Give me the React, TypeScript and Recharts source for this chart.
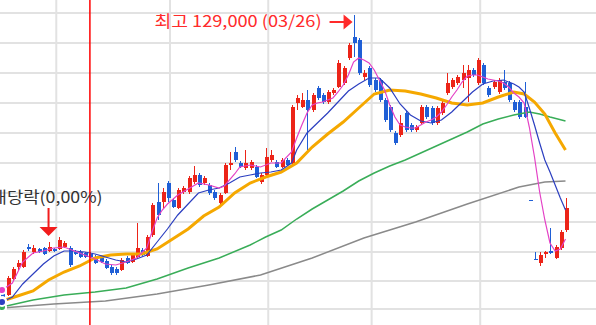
import React from 'react';
import { ComposedChart, Bar, Line, XAxis, YAxis, CartesianGrid, ReferenceLine, ReferenceDot } from 'recharts';

// daily candles, oldest first
const open = [
  73600, 73000, 76200, 78600, 78600, 82600, 81600, 82200, 82400, 81800,
  82200, 82200, 82600, 82400, 81600, 81600, 81400, 81200, 80600, 80600,
  79800, 78600, 78200, 78000, 80400, 79600, 80600, 82000, 80800, 85000,
  91600, 91600, 95400, 92000, 90400, 93600, 93600, 95600, 97000, 95400,
  95000, 93600, 91400, 93400, 99000, 101600, 99400, 98400, 98400, 98600,
  95600, 97000, 100000, 99600, 98600, 100000, 99400, 111400, 110600, 112000,
  110000, 114400, 113000, 111600, 113400, 114600, 115400, 120400, 124600, 124000,
  116600, 118400, 116000, 116000, 112000, 110600, 105400, 105000, 109400, 107000,
  106000, 107400, 110600, 110400, 107400, 109400, 113400, 114600, 115400, 116000,
  116400, 118000, 115400, 119000, 114400, 114600, 113600, 115600, 115400, 111600,
  111600, 110600, 92000, 80200, 79400, 81200, 81800, 80400, 82400, 86000,
];
const high = [
  74000, 76800, 78600, 80000, 82000, 83200, 83000, 82400, 82600, 83600,
  82400, 84600, 83800, 82800, 82000, 82000, 81600, 81600, 81000, 81000,
  80200, 79000, 78600, 80400, 80800, 81400, 87400, 82400, 85000, 91400,
  95400, 94400, 95800, 92400, 94400, 94800, 96800, 98800, 97400, 96800,
  95400, 94000, 93400, 99400, 101600, 102600, 99800, 102000, 100000, 99000,
  97400, 102400, 102000, 100000, 100400, 100400, 111000, 113000, 113400, 114000,
  113400, 114800, 113400, 114000, 114400, 120000, 118800, 123400, 129000, 124400,
  118000, 118800, 116400, 116400, 112400, 111000, 105800, 109000, 109800, 107400,
  107000, 111000, 111000, 110800, 110800, 111800, 117400, 116400, 117000, 119000,
  119000, 118400, 120400, 119400, 114800, 116000, 116400, 118000, 115800, 112000,
  112000, 115600, 92000, 81600, 81600, 81800, 86400, 83000, 86000, 92400,
];
const low = [
  72200, 72800, 75800, 78000, 78400, 81800, 81200, 81400, 81000, 81600,
  81600, 82000, 82400, 78600, 81000, 80400, 80400, 80400, 79200, 79400,
  78200, 77000, 77000, 77800, 79200, 79400, 80400, 80800, 80600, 84600,
  88000, 90400, 91600, 90400, 90200, 93200, 93200, 95200, 94600, 95000,
  93000, 92000, 91000, 93200, 98000, 99600, 98400, 98000, 98000, 96400,
  95200, 96800, 99600, 98400, 98400, 98800, 99200, 110000, 110400, 102000,
  109600, 112000, 111200, 111200, 113000, 114400, 115000, 120000, 120600, 117000,
  116000, 114600, 113600, 111600, 107600, 105600, 103000, 104600, 105600, 105600,
  105600, 107000, 108200, 107000, 107000, 109000, 113000, 114200, 115000, 114400,
  111600, 116600, 115000, 115000, 112600, 114200, 113200, 114000, 111600, 109600,
  108200, 108400, 92000, 80000, 78800, 80400, 81200, 80200, 82000, 85600,
];
const close = [
  72600, 76400, 78200, 79400, 81600, 82200, 82400, 81600, 81200, 82600,
  81800, 84000, 83400, 79000, 81200, 80600, 80600, 80600, 79400, 79600,
  78400, 77400, 77400, 80000, 79400, 81000, 82400, 81000, 84600, 91000,
  89000, 93600, 92400, 90600, 94000, 94400, 96400, 97000, 95000, 96400,
  93400, 92400, 93000, 99000, 99400, 100000, 98600, 99400, 99600, 96600,
  97000, 100600, 101000, 98600, 100000, 99000, 110600, 112400, 112000, 110000,
  113000, 112400, 111600, 113600, 114000, 119400, 118400, 123000, 123400, 117400,
  117400, 115000, 114000, 112000, 108000, 106000, 103400, 107400, 106000, 106000,
  106600, 110600, 108600, 107400, 110400, 111400, 115400, 116000, 116600, 117400,
  118000, 117000, 120000, 115400, 113000, 115600, 116000, 114400, 112000, 110000,
  108600, 108600, 92000, 80000, 81000, 81600, 81400, 82600, 85600, 90400,
];

// moving averages: [candle index, price]
const ma5: [number, number][] = [
  [0, 74000], [2, 75400], [4, 79600], [6, 81400], [8, 81800], [10, 82400], [12, 82600], [14, 81800],
  [16, 81000], [18, 80200], [20, 79200], [22, 79000], [24, 79600], [26, 80400], [28, 82400], [29, 85600],
  [30, 88400], [31, 90000], [32, 91200], [34, 93000], [36, 94200], [38, 95400], [40, 95000], [42, 94400],
  [43, 94800], [45, 97200], [46, 98600], [48, 99000], [50, 98600], [52, 99400], [54, 99400], [56, 101600],
  [57, 104400], [58, 107000], [59, 109400], [60, 111000], [61, 111400], [62, 111600], [63, 112000], [64, 112400],
  [65, 113600], [66, 115000], [67, 117000], [68, 119600], [69, 120400], [70, 120000], [71, 119400], [72, 118000],
  [73, 116000], [74, 114000], [75, 111000], [76, 108600], [77, 107000], [78, 106600], [79, 106400], [80, 106400],
  [81, 107000], [82, 107600], [83, 108000], [84, 108600], [85, 109600], [86, 111000], [87, 112600], [88, 114000],
  [89, 115600], [90, 116800], [91, 117000], [92, 117000], [93, 116600], [94, 116200], [95, 116000], [96, 115800],
  [97, 115400], [98, 114600], [99, 113400], [100, 112600], [101, 111400], [102, 106600], [103, 100600], [104, 93600],
  [105, 88000], [106, 83400], [107, 81800], [108, 82200], [109, 84200],
];
const ma10: [number, number][] = [
  [0, 71600], [2, 72600], [4, 75200], [6, 77200], [8, 79200], [10, 80800], [12, 81800], [14, 81800],
  [16, 81600], [18, 81200], [20, 80600], [22, 80000], [24, 79600], [26, 80200], [28, 81000], [30, 83600],
  [32, 86200], [34, 89000], [36, 91200], [38, 93400], [40, 94000], [42, 94400], [44, 95400], [46, 96600],
  [48, 97000], [50, 97400], [52, 97600], [54, 98000], [56, 99400], [57, 102000], [59, 105400], [61, 107400],
  [63, 109400], [65, 111600], [67, 113800], [69, 115200], [71, 116400], [73, 116400], [75, 114400], [77, 111200],
  [79, 109000], [81, 107800], [83, 107400], [85, 108000], [87, 109600], [89, 111600], [91, 113600], [93, 115200],
  [95, 115800], [97, 116000], [99, 115200], [100, 114600], [101, 113600], [102, 110400], [103, 107000], [104, 103400],
  [105, 100000], [106, 97600], [107, 95000], [108, 92400], [109, 90000],
];
const ma20: [number, number][] = [
  [0, 71800], [3, 72800], [6, 73800], [9, 76000], [12, 77600], [15, 78800], [18, 80400], [21, 81000],
  [24, 81200], [27, 81200], [30, 82200], [33, 84200], [36, 86200], [39, 88800], [42, 90600], [45, 93400],
  [48, 95400], [51, 96600], [54, 97600], [57, 99400], [60, 102600], [63, 105200], [66, 107600], [69, 110400],
  [72, 113200], [75, 114000], [78, 113800], [81, 113200], [84, 112400], [87, 111400], [90, 111000], [93, 111400],
  [96, 112600], [99, 113600], [101, 113200], [103, 111600], [105, 109200], [107, 105400], [109, 102000],
];
const ma60: [number, number][] = [
  [0, 70600], [6, 72000], [12, 73000], [18, 73600], [24, 74400], [30, 76200], [36, 78400], [42, 80400],
  [48, 83000], [51, 84600], [54, 86000], [57, 88200], [60, 90200], [63, 92000], [66, 93800], [69, 95800],
  [72, 97400], [75, 98800], [78, 100000], [81, 101400], [84, 102800], [87, 104200], [90, 105600], [93, 107200],
  [96, 108200], [99, 109000], [102, 109600], [104, 109200], [106, 108600], [109, 107800],
];
const ma120: [number, number][] = [
  [0, 70400], [10, 71200], [20, 71800], [30, 73200], [40, 75000], [50, 77000], [60, 80400], [70, 84400],
  [80, 87600], [90, 91200], [100, 94600], [105, 95600], [109, 95800],
];

const gridPrices = [129400, 123400, 117400, 111400, 105400, 99400, 93400, 87600, 81600, 75800, 70200];
const monthBreaks = [10.5, 32.5, 51.5, 71.5, 92.5];
const markerIndex = 17;
const peakIndex = 68;
const peakLabel = '최고 129,000 (03/26)';
const exDivIndex = 9;
const exDivLabel = '배당락(0,00%)';

const Y_MIN = 67000;
const Y_MAX = 132000;
const RED = '#ec2418';
const BLUE = '#1f5fd6';
const KR_FONT = "'Noto Sans CJK KR', 'Noto Sans', sans-serif";

const rows = open.map((o, i) => ({
  i,
  open: o,
  high: high[i],
  low: low[i],
  close: close[i],
  prev: i > 0 ? close[i - 1] : o,
}));

const toPoints = (list: [number, number][]) => list.map(([i, v]) => ({ i, v }));

const Candle = (props: any) => {
  const { x, y, width, height, payload } = props;
  if (!payload || height == null) return null;
  const { open: o, high: h, low: l, close: c, prev } = payload;
  const k = height / (h - Y_MIN);
  const py = (v: number) => y + (h - v) * k;
  const cx = Math.round(x + width / 2);
  const up = c > o || (c === o && c >= prev);
  const color = up ? RED : BLUE;
  const top = py(Math.max(o, c));
  const bot = py(Math.min(o, c));
  return (
    <g>
      <line x1={cx + 0.5} x2={cx + 0.5} y1={py(h)} y2={py(l)} stroke={color} strokeWidth={1} />
      <rect x={cx - 1} y={top} width={4} height={Math.max(1, bot - top)} fill={color} />
    </g>
  );
};

const PeakMark = (props: any) => {
  const { cx, cy } = props;
  if (cx == null) return null;
  const ay = cy + 7;
  return (
    <g>
      <text x={cx - 32} y={cy + 12} textAnchor="end" fill="#ff2a2a" fontSize={16} fontFamily={KR_FONT}
        textLength={167} lengthAdjust="spacingAndGlyphs">{peakLabel}</text>
      <line x1={cx - 24} x2={cx - 9} y1={ay} y2={ay} stroke="#ff2a2a" strokeWidth={2} />
      <polygon points={`${cx - 10},${ay - 7.5} ${cx - 10},${ay + 7.5} ${cx - 1},${ay}`} fill="#ff2a2a" />
    </g>
  );
};

const ExDivMark = (props: any) => {
  const { cx, cy } = props;
  if (cx == null) return null;
  return (
    <g>
      <text x={cx - 2} y={cy - 39} textAnchor="middle" fill="#333" fontSize={16} fontFamily={KR_FONT}
        textLength={112} lengthAdjust="spacingAndGlyphs">{exDivLabel}</text>
      <line x1={cx} x2={cx} y1={cy - 34} y2={cy - 14} stroke="#f21c1c" strokeWidth={2} />
      <polygon points={`${cx - 9},${cy - 15} ${cx + 9},${cy - 15} ${cx},${cy - 6}`} fill="#f21c1c" />
    </g>
  );
};

export default function App() {
  return (
    <div style={{ position: 'absolute', left: 0, top: 0, width: 596, height: 325, background: '#fff' }}>
      <ComposedChart width={596} height={325} data={rows} margin={{ top: 0, right: 0, bottom: 0, left: 0 }}>
        <XAxis dataKey="i" type="number" domain={[-0.39, 114.9]} allowDataOverflow hide />
        <YAxis type="number" domain={[Y_MIN, Y_MAX]} allowDataOverflow hide />
        <CartesianGrid stroke="#e2e2e2" strokeWidth={2} horizontalValues={gridPrices} verticalValues={monthBreaks} />
        <Bar dataKey={(d: any) => [Y_MIN, d.high]} shape={<Candle />} barSize={4} isAnimationActive={false} />
        <Line data={toPoints(ma120)} dataKey="v" stroke="#8a8a8a" strokeWidth={1.5} dot={false} isAnimationActive={false} />
        <Line data={toPoints(ma60)} dataKey="v" stroke="#39ad58" strokeWidth={1.5} dot={false} isAnimationActive={false} />
        <Line data={toPoints(ma20)} dataKey="v" stroke="#f5a800" strokeWidth={3} dot={false} isAnimationActive={false} />
        <Line data={toPoints(ma10)} dataKey="v" stroke="#2c3fc0" strokeWidth={1.2} dot={false} isAnimationActive={false} />
        <Line data={toPoints(ma5)} dataKey="v" stroke="#e442c6" strokeWidth={1.2} dot={false} isAnimationActive={false} />
        <ReferenceLine x={markerIndex} stroke="#ff0000" strokeWidth={1.5} />
        <ReferenceDot x={peakIndex} y={high[peakIndex]} r={0} shape={<PeakMark />} />
        <ReferenceDot x={exDivIndex} y={high[exDivIndex]} r={0} shape={<ExDivMark />} />
      </ComposedChart>
    </div>
  );
}
